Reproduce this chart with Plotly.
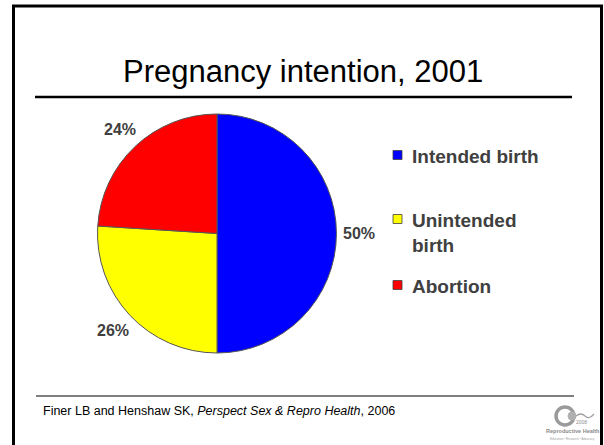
import math
import plotly.graph_objects as go

W, H = 604, 445

labels = ["Intended birth", "Unintended birth", "Abortion"]
legend_text = ["Intended birth", "Unintended<br>birth", "Abortion"]
values = [50, 26, 24]
colors = ["#0000FF", "#FFFF00", "#FF0000"]

title_text = "Pregnancy intention, 2001"
source_text = "Finer LB and Henshaw SK, <i>Perspect Sex &amp; Repro Health</i>, 2006"


def px(x):
    return x / W


def py(y):
    return 1 - y / H


cx, cy, r = 217, 233.5, 119.5
label_r = 142

fig = go.Figure()
fig.add_trace(go.Pie(
    labels=labels,
    values=values,
    sort=False,
    direction="clockwise",
    rotation=0,
    marker=dict(colors=colors, line=dict(color="#555555", width=1)),
    textinfo="none",
    domain=dict(x=[px(cx - r), px(cx + r)], y=[py(cy + r), py(cy - r)]),
    showlegend=False,
    hoverinfo="label+percent",
))

shapes = []
annotations = []

# percentage labels placed at each slice's mid-angle (derived from the values)
total = sum(values)
cum = 0
for v in values:
    mid = (cum + v / 2) / total * 2 * math.pi
    cum += v
    lx = cx + label_r * math.sin(mid)
    ly = cy - label_r * math.cos(mid)
    annotations.append(dict(text=f"<b>{round(100 * v / total)}%</b>", xref="paper", yref="paper",
                            x=px(lx), y=py(ly), xanchor="center", yanchor="middle", showarrow=False,
                            font=dict(family="Liberation Sans", size=16, color="#404040")))

# slide border
shapes.append(dict(type="line", xref="paper", yref="paper", x0=px(13.5), x1=px(13.5), y0=py(6), y1=py(450),
                   line=dict(color="black", width=3)))
shapes.append(dict(type="line", xref="paper", yref="paper", x0=px(12), x1=px(603), y0=py(6), y1=py(6),
                   line=dict(color="black", width=3)))
shapes.append(dict(type="line", xref="paper", yref="paper", x0=px(601.5), x1=px(601.5), y0=py(6), y1=py(450),
                   line=dict(color="black", width=3)))

# title underline
shapes.append(dict(type="line", xref="paper", yref="paper", x0=px(35), x1=px(572), y0=py(97), y1=py(97),
                   line=dict(color="black", width=2.5)))
# footer line
shapes.append(dict(type="line", xref="paper", yref="paper", x0=px(36), x1=px(574), y0=py(396), y1=py(396),
                   line=dict(color="black", width=1)))

annotations.append(dict(text=title_text, xref="paper", yref="paper", x=px(303), y=py(71),
                        xanchor="center", yanchor="middle", showarrow=False,
                        font=dict(family="Liberation Sans", size=31, color="black")))
annotations.append(dict(text=source_text, xref="paper", yref="paper", x=px(41), y=py(411),
                        xanchor="left", yanchor="middle", showarrow=False,
                        font=dict(family="Liberation Sans", size=12.5, color="black")))

# legend built from data
legend_y = [155, 219, 285]
for lab, col, ly in zip(legend_text, colors, legend_y):
    shapes.append(dict(type="rect", xref="paper", yref="paper", x0=px(393), x1=px(402),
                       y0=py(ly + 4.5), y1=py(ly - 4.5),
                       fillcolor=col, line=dict(color="#404040", width=0.8)))
    annotations.append(dict(text="<b>" + lab + "</b>", xref="paper", yref="paper", x=px(410), y=py(ly - 11),
                            xanchor="left", yanchor="top", align="left", showarrow=False,
                            font=dict(family="Liberation Sans", size=19, color="#404040")))

# logo (approximate)
shapes.append(dict(type="circle", xref="paper", yref="paper", x0=px(556), x1=px(574), y0=py(425), y1=py(407),
                   line=dict(color="#9a9a9a", width=3.5)))
shapes.append(dict(type="circle", xref="paper", yref="paper", x0=px(568), x1=px(576), y0=py(420), y1=py(412),
                   fillcolor="#b0b0b0", line=dict(color="#b0b0b0", width=1)))
shapes.append(dict(type="path", xref="paper", yref="paper",
                   path=f"M {px(576)} {py(416)} Q {px(581)} {py(412)} {px(585)} {py(416)} T {px(594)} {py(414)}",
                   line=dict(color="#a0a0a0", width=1.2)))
annotations.append(dict(text="2008", xref="paper", yref="paper", x=px(581), y=py(422),
                        xanchor="center", yanchor="middle", showarrow=False,
                        font=dict(family="Liberation Sans", size=5, color="#909090")))
annotations.append(dict(text="<b>Reproductive Health</b>", xref="paper", yref="paper", x=px(544), y=py(431),
                        xanchor="left", yanchor="middle", showarrow=False,
                        font=dict(family="Liberation Sans", size=5.5, color="#8a8a8a")))
annotations.append(dict(text="Education • Research • Advocacy", xref="paper", yref="paper", x=px(548), y=py(439),
                        xanchor="left", yanchor="middle", showarrow=False,
                        font=dict(family="Liberation Sans", size=3, color="#a0a0a0")))

fig.update_layout(
    width=W, height=H,
    margin=dict(l=0, r=0, t=0, b=0),
    paper_bgcolor="white",
    plot_bgcolor="white",
    shapes=shapes,
    annotations=annotations,
    showlegend=False,
)

fig.write_html("out.html", config={"displayModeBar": False},
               post_script="document.body.style.margin='0';document.body.style.overflow='hidden';")
